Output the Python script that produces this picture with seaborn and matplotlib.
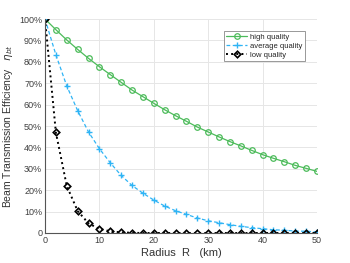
import numpy as np
import pandas as pd
import matplotlib
matplotlib.use("Agg")
import matplotlib.pyplot as plt
import seaborn as sns
from matplotlib.ticker import FuncFormatter

sns.set_style("whitegrid")
plt.rcParams['font.family'] = ['Liberation Sans', 'DejaVu Sans']
plt.rcParams['mathtext.fontset'] = 'dejavusans'

radius_km = list(range(0, 51, 2))
high_quality = [100, 95.0, 90.2, 85.8, 81.6, 77.7, 74.0, 70.4, 66.8, 63.7, 60.6, 57.6, 54.8,
                52.2, 49.5, 47.2, 44.9, 42.7, 40.7, 38.6, 36.6, 34.9, 33.3, 31.6, 30.2, 28.8]
average_quality = [100, 83.3, 68.7, 57.2, 47.2, 39.4, 32.8, 26.9, 22.2, 18.6, 15.4, 12.6, 10.4,
                   8.7, 7.0, 5.7, 4.8, 3.9, 3.1, 2.5, 2.0, 1.5, 1.3, 0.9, 0.8, 0.5]
low_quality = [100, 47.0, 22.0, 10.3, 4.5, 1.9, 0.8, 0.3, 0.1, 0, 0, 0, 0,
               0, 0, 0, 0, 0, 0, 0, 0, 0, 0, 0, 0, 0]

fig = plt.figure(figsize=(3.5, 2.63), dpi=100)
ax = fig.add_axes([45/350, 30/263, 272/350, 214/263])

green = '#4cbb5a'
blue = '#2fb4f5'
sns.lineplot(x=radius_km, y=high_quality, ax=ax, color=green, linestyle='-', linewidth=0.9,
             marker='o', markersize=4, markerfacecolor='none', markeredgecolor=green,
             markeredgewidth=0.9, label='high quality')
sns.lineplot(x=radius_km, y=average_quality, ax=ax, color=blue, linestyle=(0, (3, 2)), linewidth=0.9,
             marker='+', markersize=5, markeredgecolor=blue, markeredgewidth=1.0, label='average quality')
sns.lineplot(x=radius_km, y=low_quality, ax=ax, color='black', linestyle=':', linewidth=1.4,
             marker='D', markersize=3.3, markerfacecolor='none', markeredgecolor='black',
             markeredgewidth=1.2, label='low quality')

ax.set_xlim(0, 50)
ax.set_ylim(0, 100)
ax.set_xticks([0, 10, 20, 30, 40, 50])
ax.set_yticks(range(0, 101, 10))
ax.yaxis.set_major_formatter(FuncFormatter(lambda v, p: '0' if v == 0 else f'{v:.0f}%'))
ax.tick_params(axis='both', labelsize=6.5, colors='#404040', length=0, pad=2)
ax.grid(True, color='#e6e6e6', linewidth=0.7)
for s in ['top', 'right']:
    ax.spines[s].set_visible(False)
for s in ['left', 'bottom']:
    ax.spines[s].set_color('#555555')
    ax.spines[s].set_linewidth(0.8)

ax.set_xlabel('Radius  R   (km)', fontsize=8, color='#333333', labelpad=2)
ax.set_ylabel(r'Beam Transmission Efficiency   $\eta_{bt}$', fontsize=7.5, color='#333333', labelpad=3)

leg = ax.legend(loc='upper right', bbox_to_anchor=(0.97, 0.96), fontsize=5.5, frameon=True,
                fancybox=False, framealpha=1, edgecolor='#888888', handlelength=2.8,
                borderpad=0.3, labelspacing=0.2, handletextpad=0.4)
leg.get_frame().set_linewidth(0.6)

fig.savefig('out.png', dpi=100)
